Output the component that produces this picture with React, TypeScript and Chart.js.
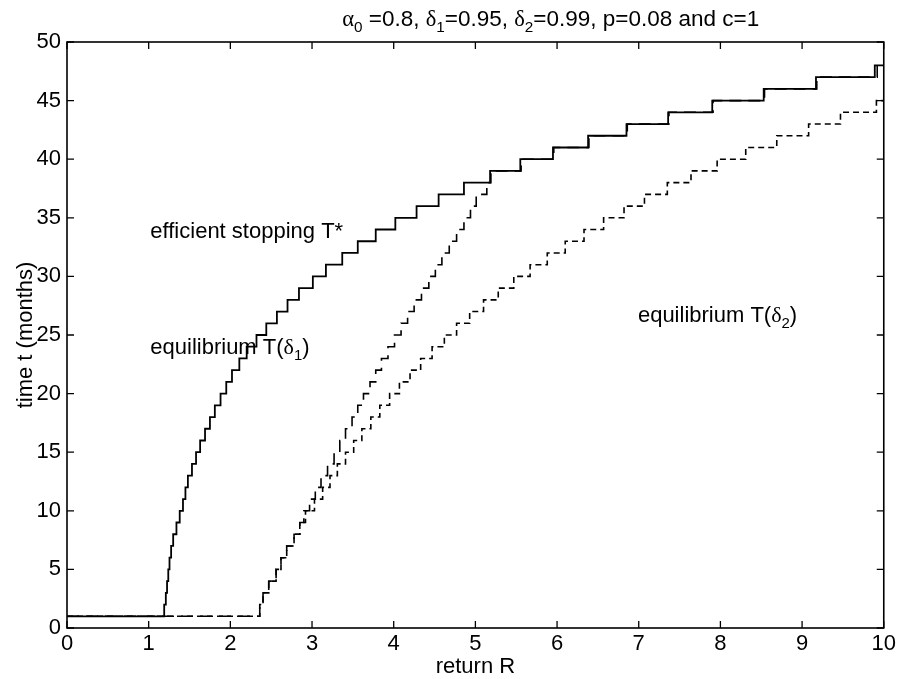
import React, { useEffect, useRef } from 'react';
import { Chart, registerables } from 'chart.js';

Chart.register(...registerables);

// ---- data: R (return) at which each level of T (months) starts ----
const effR = [0, 1.19, 1.21, 1.225, 1.24, 1.255, 1.275, 1.30, 1.34, 1.38, 1.42, 1.45, 1.48, 1.53, 1.58, 1.63, 1.69, 1.75, 1.81, 1.88, 1.95, 2.02, 2.11, 2.20, 2.32, 2.44, 2.57, 2.70, 2.84, 3.01, 3.17, 3.37, 3.56, 3.78, 4.02, 4.28, 4.55, 4.86, 5.18, 5.55, 5.95, 6.38, 6.85, 7.36, 7.90, 8.53, 9.17, 9.89, 10];
const effT = [1, 2, 3, 4, 5, 6, 7, 8, 9, 10, 11, 12, 13, 14, 15, 16, 17, 18, 19, 20, 21, 22, 23, 24, 25, 26, 27, 28, 29, 30, 31, 32, 33, 34, 35, 36, 37, 38, 39, 40, 41, 42, 43, 44, 45, 46, 47, 48, 48];

const eq1R = [0, 2.36, 2.40, 2.47, 2.56, 2.62, 2.69, 2.78, 2.85, 2.90, 2.97, 3.04, 3.11, 3.19, 3.27, 3.34, 3.41, 3.49, 3.56, 3.63, 3.71, 3.78, 3.85, 3.93, 4.01, 4.09, 4.17, 4.25, 4.34, 4.43, 4.51, 4.59, 4.68, 4.77, 4.86, 4.94, 5.01, 5.14, 5.19, 5.56, 5.96, 6.39, 6.86, 7.37, 7.91, 8.54, 9.18, 9.92, 10];
const eq1T = [1, 2, 3, 4, 5, 6, 7, 8, 9, 10, 11, 12, 13, 14, 15, 16, 17, 18, 19, 20, 21, 22, 23, 24, 25, 26, 27, 28, 29, 30, 31, 32, 33, 34, 35, 36, 37, 38, 39, 40, 41, 42, 43, 44, 45, 46, 47, 48, 48];

const eq2R = [0, 2.36, 2.40, 2.47, 2.56, 2.62, 2.69, 2.78, 2.85, 2.92, 3.03, 3.13, 3.22, 3.31, 3.41, 3.51, 3.61, 3.72, 3.83, 3.95, 4.07, 4.20, 4.33, 4.47, 4.62, 4.77, 4.93, 5.10, 5.28, 5.47, 5.67, 5.88, 6.10, 6.33, 6.57, 6.82, 7.07, 7.35, 7.64, 7.96, 8.31, 8.69, 9.08, 9.47, 9.91, 10];
const eq2T = [1, 2, 3, 4, 5, 6, 7, 8, 9, 10, 11, 12, 13, 14, 15, 16, 17, 18, 19, 20, 21, 22, 23, 24, 25, 26, 27, 28, 29, 30, 31, 32, 33, 34, 35, 36, 37, 38, 39, 40, 41, 42, 43, 44, 45, 45];

const xMin = 0, xMax = 10, xStep = 1;
const yMin = 0, yMax = 50, yStep = 5;

const xTitle = 'return R';
const yTitle = 'time t (months)';

const SANS = '"Liberation Sans", Arial, Helvetica, sans-serif';
const SERIF = '"Liberation Serif", "Times New Roman", serif';
const FS = 22;

type Part = { t: string; serif?: boolean; sub?: boolean };

const titleParts: Part[] = [
  { t: 'α', serif: true }, { t: '0', sub: true }, { t: ' =0.8, ' },
  { t: 'δ', serif: true }, { t: '1', sub: true }, { t: '=0.95, ' },
  { t: 'δ', serif: true }, { t: '2', sub: true }, { t: '=0.99, p=0.08 and c=1' },
];

const notes: { x: number; y: number; parts: Part[] }[] = [
  { x: 1.02, y: 33.25, parts: [{ t: 'efficient stopping T*' }] },
  { x: 1.02, y: 23.4, parts: [{ t: 'equilibrium T(' }, { t: 'δ', serif: true }, { t: '1', sub: true }, { t: ')' }] },
  { x: 6.99, y: 26.1, parts: [{ t: 'equilibrium T(' }, { t: 'δ', serif: true }, { t: '2', sub: true }, { t: ')' }] },
];

function pts(r: number[], t: number[]) {
  return r.map((x, i) => ({ x, y: t[i] }));
}

function drawParts(ctx: CanvasRenderingContext2D, x: number, y: number, parts: Part[], size: number) {
  let cx = x;
  for (const p of parts) {
    const s = p.sub ? size * 0.68 : size;
    ctx.font = `${s}px ${p.serif ? SERIF : SANS}`;
    ctx.fillText(p.t, cx, y + (p.sub ? size * 0.28 : 0));
    cx += ctx.measureText(p.t).width;
  }
}

const framePlugin = {
  id: 'matlabFrame',
  afterDraw(chart: any) {
    const { ctx, chartArea: a, scales } = chart;
    const xs = scales.x, ys = scales.y;
    ctx.save();
    ctx.strokeStyle = '#000';
    ctx.lineWidth = 1.6;
    ctx.strokeRect(a.left, a.top, a.right - a.left, a.bottom - a.top);
    const tl = 7;
    ctx.lineWidth = 1.3;
    ctx.beginPath();
    xs.ticks.forEach((tk: any) => {
      const px = xs.getPixelForValue(tk.value);
      ctx.moveTo(px, a.bottom); ctx.lineTo(px, a.bottom - tl);
      ctx.moveTo(px, a.top); ctx.lineTo(px, a.top + tl);
    });
    ys.ticks.forEach((tk: any) => {
      const py = ys.getPixelForValue(tk.value);
      ctx.moveTo(a.left, py); ctx.lineTo(a.left + tl, py);
      ctx.moveTo(a.right, py); ctx.lineTo(a.right - tl, py);
    });
    ctx.stroke();

    ctx.fillStyle = '#000';
    ctx.textBaseline = 'alphabetic';
    ctx.textAlign = 'left';
    // title
    drawParts(ctx, xs.getPixelForValue(3.37), a.top - 16, titleParts, 22.5);
    // annotations
    for (const n of notes) {
      drawParts(ctx, xs.getPixelForValue(n.x), ys.getPixelForValue(n.y), n.parts, FS);
    }
    // axis titles
    ctx.font = `${FS}px ${SANS}`;
    ctx.textAlign = 'center';
    ctx.fillText(xTitle, (a.left + a.right) / 2, a.bottom + 45);
    ctx.save();
    ctx.translate(a.left - 35, (a.top + a.bottom) / 2);
    ctx.rotate(-Math.PI / 2);
    ctx.fillText(yTitle, 0, 0);
    ctx.restore();
    ctx.restore();
  },
};

export default function App() {
  const ref = useRef<HTMLCanvasElement>(null);
  useEffect(() => {
    document.body.style.margin = '0';
    const canvas = ref.current!;
    const tickFont = { family: SANS, size: FS };
    const chart = new Chart(canvas, {
      type: 'line',
      data: {
        datasets: [
          { label: 'efficient stopping T*', data: pts(effR, effT), stepped: 'before', borderColor: '#000', borderWidth: 1.8, pointRadius: 0, fill: false },
          { label: 'equilibrium T(δ1)', data: pts(eq1R, eq1T), stepped: 'before', borderColor: '#000', borderWidth: 1.6, borderDash: [12, 7], pointRadius: 0, fill: false },
          { label: 'equilibrium T(δ2)', data: pts(eq2R, eq2T), stepped: 'before', borderColor: '#000', borderWidth: 1.6, borderDash: [6, 4], pointRadius: 0, fill: false },
        ],
      },
      options: {
        animation: false,
        responsive: false,
        layout: { padding: { top: 42, right: 12, left: 0, bottom: 0 } },
        plugins: { legend: { display: false }, tooltip: { enabled: false }, title: { display: false } },
        scales: {
          x: {
            type: 'linear', min: xMin, max: xMax,
            ticks: { stepSize: xStep, color: '#000', font: tickFont, padding: 3, maxRotation: 0 },
            grid: { display: false, drawTicks: false },
            border: { display: false },
            afterFit: (s: any) => { s.height = 51; },
          },
          y: {
            type: 'linear', min: yMin, max: yMax,
            ticks: { stepSize: yStep, color: '#000', font: tickFont, padding: 6 },
            grid: { display: false, drawTicks: false },
            border: { display: false },
            afterFit: (s: any) => { s.width = 67; },
          },
        },
      },
      plugins: [framePlugin],
    } as any);
    return () => chart.destroy();
  }, []);
  return <canvas ref={ref} width={899} height={679} style={{ display: 'block' }} />;
}
